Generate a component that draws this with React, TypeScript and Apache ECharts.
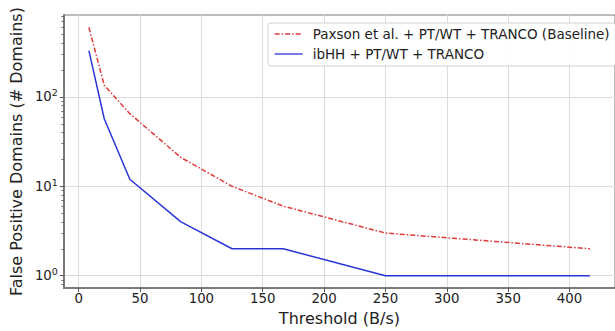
import React, { useEffect, useRef } from "react";
import * as echarts from "echarts";

const thresholds = [8.33, 20.83, 41.67, 83.33, 125, 166.67, 250, 416.67];
const paxsonValues = [600, 135, 65, 21, 10, 6, 3, 2];
const ibhhValues = [330, 57, 12, 4, 2, 2, 1, 1];
const xTickValues = [0, 50, 100, 150, 200, 250, 300, 350, 400];
const yTickValues = [1, 10, 100];
const yMinorTicks = [0.8, 0.9, 2, 3, 4, 5, 6, 7, 8, 9, 20, 30, 40, 50, 60, 70, 80, 90, 200, 300, 400, 500, 600, 700, 800];
const seriesNames = ["Paxson et al. + PT/WT + TRANCO (Baseline)", "ibHH + PT/WT + TRANCO"];

const FONT = "DejaVu Sans";

export default function App() {
  const ref = useRef<HTMLDivElement>(null);
  useEffect(() => {
    if (!ref.current) return;
    const chart = echarts.init(ref.current, null, { renderer: "svg" });
    const supDigits: Record<number, string> = { 0: "0", 1: "1", 2: "2" };
    chart.setOption({
      animation: false,
      backgroundColor: "#ffffff",
      textStyle: { fontFamily: FONT },
      grid: {
        left: 62,
        right: -12,
        top: 15,
        bottom: 36,
        show: true,
        borderColor: "#7a7a7a",
        borderWidth: 1,
        backgroundColor: "transparent",
      },
      legend: {
        left: 268,
        top: 23,
        orient: "vertical",
        align: "left",
        itemWidth: 28,
        itemHeight: 10,
        itemGap: 4,
        padding: [3, 6, 4, 6],
        backgroundColor: "rgba(255,255,255,0.9)",
        borderColor: "#d0d0d0",
        borderWidth: 1,
        borderRadius: 3,
        itemStyle: { opacity: 0, borderWidth: 0 },
        lineStyle: { width: 1.3 },
        textStyle: {
          fontFamily: FONT,
          fontSize: 13.5,
          color: "#222",
          lineHeight: 16,
          padding: [0, 0, 0, 5],
        },
        data: seriesNames,
      },
      xAxis: [
        {
          type: "value",
          min: -12.08,
          max: 437.08,
          minInterval: 50,
          maxInterval: 50,
          name: "Threshold (B/s)",
          nameLocation: "middle",
          nameGap: 21,
          nameTextStyle: { fontFamily: FONT, fontSize: 16, color: "#222" },
          axisLine: { show: true, onZero: false, lineStyle: { color: "#7a7a7a", width: 2 } },
          axisTick: {
            show: true,
            length: 4,
            customValues: xTickValues,
            lineStyle: { color: "#555", width: 1 },
          },
          axisLabel: {
            fontFamily: FONT,
            fontSize: 13.3,
            color: "#222",
            margin: 4,
            customValues: xTickValues,
            formatter: (v: number) => (Math.abs(v % 50) < 1e-6 ? String(v) : ""),
          },
          splitLine: { show: true, lineStyle: { color: "#dcdcdc", width: 1 } },
        },
      ],
      yAxis: [
        {
          type: "log",
          logBase: 10,
          min: 0.726,
          max: 826,
          splitNumber: 3,
          name: "False Positive Domains (# Domains)",
          nameLocation: "middle",
          nameGap: 25,
          nameTextStyle: { fontFamily: FONT, fontSize: 16, color: "#222" },
          axisLine: { show: true, onZero: false, lineStyle: { color: "#7a7a7a", width: 2 } },
          axisTick: {
            show: true,
            length: 4,
            customValues: yTickValues,
            lineStyle: { color: "#555", width: 1 },
          },
          axisLabel: {
            fontFamily: FONT,
            color: "#222",
            margin: 6,
            customValues: yTickValues,
            formatter: (v: number) => {
              const e = Math.log10(v);
              const r = Math.round(e);
              if (Math.abs(e - r) > 1e-6) return "";
              return "{b|10}{s|" + (supDigits[r] ?? String(r)) + "}";
            },
            rich: {
              b: { fontFamily: FONT, fontSize: 13.3, color: "#222", lineHeight: 18 },
              s: { fontFamily: FONT, fontSize: 9.5, color: "#222", verticalAlign: "top", lineHeight: 12 },
            },
          },
          splitLine: { show: true, lineStyle: { color: "#dcdcdc", width: 1 } },
        },
        {
          type: "log",
          logBase: 10,
          min: 0.726,
          max: 826,
          position: "left",
          axisLine: { show: false, onZero: false },
          axisLabel: { show: false },
          splitLine: { show: false },
          axisTick: {
            show: true,
            length: 2.5,
            customValues: yMinorTicks,
            lineStyle: { color: "#555", width: 0.8 },
          },
        },
      ],
      series: [
        {
          name: seriesNames[0],
          type: "line",
          data: thresholds.map((x, i) => [x, paxsonValues[i]]),
          symbol: "none",
          color: "#e03a3a",
          lineStyle: { color: "#e03a3a", width: 1.5, type: [5, 2, 1.5, 2] },
        },
        {
          name: seriesNames[1],
          type: "line",
          data: thresholds.map((x, i) => [x, ibhhValues[i]]),
          symbol: "none",
          color: "#2a35d8",
          lineStyle: { color: "#2a35d8", width: 1.5 },
        },
      ],
    });
    return () => chart.dispose();
  }, []);
  return <div ref={ref} style={{ width: 615, height: 331, position: "absolute", left: 0, top: 0 }} />;
}
